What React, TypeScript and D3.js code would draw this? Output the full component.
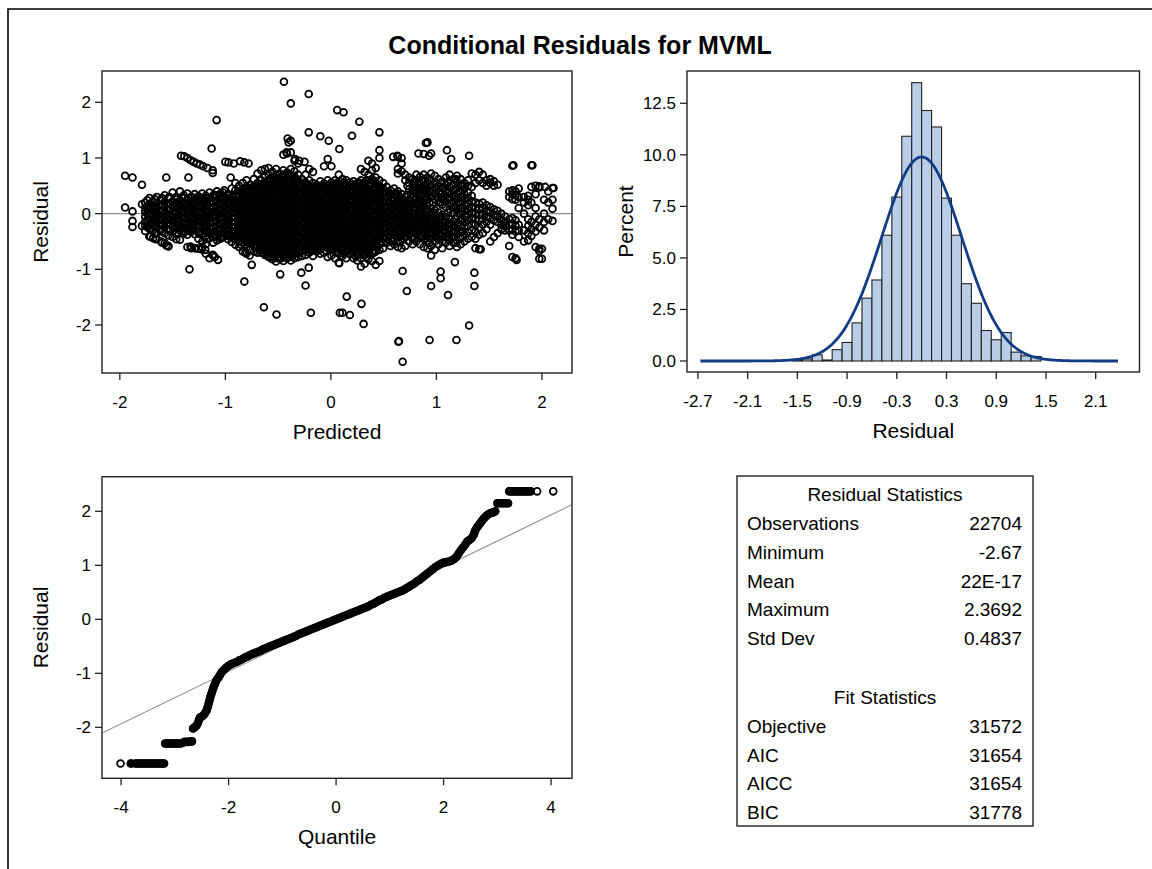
import React from 'react';
import * as d3 from 'd3';

const W = 1152;
const H = 869;

// ---------- Panel 1: Residual vs Predicted (hand-read columns: predicted, residuals) ----------
const scatterColumns: [number, number[]][] = [
  [-1.95, [0.68, 0.11]],
  [-1.88, [0.65, 0.04, -0.13, -0.24]],
  [-1.79, [0.52, 0.17, -0.22]],
  [-1.76, [0.2, 0.11, 0.04, -0.05, -0.14, -0.22, -0.31]],
  [-1.72, [0.28, 0.17, 0.08, -0.01, -0.1, -0.19, -0.27, -0.41]],
  [-1.685, [0.22, 0.13, 0.05, -0.04, -0.12, -0.21, -0.3, -0.44]],
  [-1.65, [0.3, 0.19, 0.1, 0.01, -0.07, -0.16, -0.25, -0.34, -0.45]],
  [-1.61, [0.25, 0.15, 0.06, -0.03, -0.11, -0.2, -0.29, -0.5]],
  [-1.575, [0.33, 0.21, 0.12, 0.03, -0.06, -0.15, -0.24, -0.35, -0.53]],
  [-1.54, [0.28, 0.18, 0.08, -0.01, -0.1, -0.19, -0.28, -0.39, -0.58]],
  [-1.5, [0.38, 0.22, 0.13, 0.04, -0.05, -0.14, -0.23, -0.33, -0.42]],
  [-1.465, [0.3, 0.19, 0.1, 0.01, -0.08, -0.17, -0.26, -0.36, -0.46]],
  [-1.43, [0.4, 0.24, 0.15, 0.06, -0.03, -0.12, -0.21, -0.3, -0.47]],
  [-1.395, [0.33, 0.2, 0.11, 0.02, -0.07, -0.16, -0.25, -0.35]],
  [-1.36, [0.36, 0.25, 0.16, 0.07, -0.02, -0.11, -0.2, -0.29, -0.38, -0.6]],
  [-1.325, [0.3, 0.21, 0.12, 0.03, -0.06, -0.15, -0.24, -0.33, -0.62]],
  [-1.29, [0.35, 0.26, 0.17, 0.08, -0.01, -0.1, -0.19, -0.28, -0.37, -0.62]],
  [-1.255, [0.31, 0.22, 0.13, 0.04, -0.05, -0.14, -0.23, -0.32, -0.45, -0.63]],
  [-1.22, [0.36, 0.27, 0.18, 0.09, 0.0, -0.09, -0.18, -0.27, -0.36, -0.5, -0.6]],
  [-1.185, [0.32, 0.23, 0.14, 0.05, -0.04, -0.13, -0.22, -0.31, -0.4, -0.55, -0.72]],
  [-1.15, [0.38, 0.28, 0.19, 0.1, 0.01, -0.08, -0.17, -0.26, -0.35, -0.44, -0.8]],
  [-1.115, [0.3, 0.21, 0.12, 0.03, -0.06, -0.15, -0.24, -0.33, -0.42, -0.52, -0.75]],
  [-1.08, [0.4, 0.33, 0.24, 0.15, 0.06, -0.03, -0.12, -0.21, -0.3, -0.39, -0.48]],
  [-1.045, [0.36, 0.27, 0.18, 0.09, 0.0, -0.09, -0.18, -0.27, -0.36, -0.45]],
  [-1.01, [0.42, 0.31, 0.22, 0.13, 0.04, -0.05, -0.14, -0.23, -0.32, -0.41]],
  [-0.975, [0.35, 0.26, 0.17, 0.08, -0.01, -0.1, -0.19, -0.28, -0.37, -0.46]],
  [-0.94, [0.45, 0.3, 0.21, 0.12, 0.03, -0.06, -0.15, -0.24, -0.33, -0.42, -0.51]],
  [-0.905, [0.55, 0.42, 0.33, 0.25, 0.17, 0.09, 0.01, -0.07, -0.15, -0.23, -0.31, -0.39, -0.47, -0.56]],
  [-0.87, [0.5, 0.4, 0.31, 0.23, 0.15, 0.07, -0.01, -0.09, -0.17, -0.25, -0.33, -0.41, -0.49, -0.6]],
  [-0.835, [0.55, 0.45, 0.36, 0.28, 0.2, 0.12, 0.04, -0.04, -0.12, -0.2, -0.28, -0.36, -0.44, -0.52, -0.68]],
  [-0.8, [0.6, 0.48, 0.39, 0.31, 0.23, 0.15, 0.07, -0.01, -0.09, -0.17, -0.25, -0.33, -0.41, -0.5, -0.6, -0.72]],
  [-0.765, [0.52, 0.43, 0.35, 0.27, 0.19, 0.11, 0.03, -0.05, -0.13, -0.21, -0.29, -0.37, -0.45, -0.53, -0.65]],
  [-0.73, [0.62, 0.5, 0.41, 0.33, 0.25, 0.17, 0.09, 0.01, -0.07, -0.15, -0.23, -0.31, -0.39, -0.47, -0.56, -0.68]],
  [-0.695, [0.72, 0.55, 0.46, 0.38, 0.3, 0.22, 0.14, 0.06, -0.02, -0.1, -0.18, -0.26, -0.34, -0.42, -0.5, -0.58, -0.7]],
  [-0.66, [0.78, 0.6, 0.5, 0.42, 0.34, 0.26, 0.18, 0.1, 0.02, -0.06, -0.14, -0.22, -0.3, -0.38, -0.46, -0.54, -0.62, -0.7]],
  [-0.625, [0.8, 0.66, 0.55, 0.46, 0.38, 0.3, 0.22, 0.14, 0.06, -0.02, -0.1, -0.18, -0.26, -0.34, -0.42, -0.5, -0.58, -0.66, -0.74]],
  [-0.59, [0.82, 0.7, 0.6, 0.52, 0.44, 0.36, 0.28, 0.2, 0.12, 0.04, -0.04, -0.12, -0.2, -0.28, -0.36, -0.44, -0.52, -0.6, -0.68, -0.78]],
  [-0.555, [0.75, 0.65, 0.56, 0.48, 0.4, 0.32, 0.24, 0.16, 0.08, 0.0, -0.08, -0.16, -0.24, -0.32, -0.4, -0.48, -0.56, -0.64, -0.72, -0.82]],
  [-0.52, [0.8, 0.7, 0.61, 0.53, 0.45, 0.37, 0.29, 0.21, 0.13, 0.05, -0.03, -0.11, -0.19, -0.27, -0.35, -0.43, -0.51, -0.59, -0.67, -0.75, -0.86]],
  [-0.485, [0.72, 0.64, 0.56, 0.48, 0.4, 0.32, 0.24, 0.16, 0.08, 0.0, -0.08, -0.16, -0.24, -0.32, -0.4, -0.48, -0.56, -0.64, -0.72, -0.8]],
  [-0.45, [1.06, 0.78, 0.68, 0.6, 0.52, 0.44, 0.36, 0.28, 0.2, 0.12, 0.04, -0.04, -0.12, -0.2, -0.28, -0.36, -0.44, -0.52, -0.6, -0.68, -0.76, -0.85]],
  [-0.415, [1.08, 0.74, 0.64, 0.56, 0.48, 0.4, 0.32, 0.24, 0.16, 0.08, 0.0, -0.08, -0.16, -0.24, -0.32, -0.4, -0.48, -0.56, -0.64, -0.72, -0.8]],
  [-0.38, [1.1, 0.8, 0.7, 0.61, 0.53, 0.45, 0.37, 0.29, 0.21, 0.13, 0.05, -0.03, -0.11, -0.19, -0.27, -0.35, -0.43, -0.51, -0.59, -0.67, -0.75, -0.84]],
  [-0.345, [0.95, 0.76, 0.66, 0.57, 0.49, 0.41, 0.33, 0.25, 0.17, 0.09, 0.01, -0.07, -0.15, -0.23, -0.31, -0.39, -0.47, -0.55, -0.63, -0.71, -0.8]],
  [-0.31, [0.9, 0.7, 0.6, 0.52, 0.44, 0.36, 0.28, 0.2, 0.12, 0.04, -0.04, -0.12, -0.2, -0.28, -0.36, -0.44, -0.52, -0.6, -0.68, -0.78]],
  [-0.275, [0.62, 0.53, 0.45, 0.37, 0.29, 0.21, 0.13, 0.05, -0.03, -0.11, -0.19, -0.27, -0.35, -0.43, -0.51, -0.59, -0.67, -0.76]],
  [-0.24, [0.7, 0.56, 0.47, 0.39, 0.31, 0.23, 0.15, 0.07, -0.01, -0.09, -0.17, -0.25, -0.33, -0.41, -0.49, -0.57, -0.65, -0.74]],
  [-0.205, [0.8, 0.6, 0.5, 0.42, 0.34, 0.26, 0.18, 0.1, 0.02, -0.06, -0.14, -0.22, -0.3, -0.38, -0.46, -0.54, -0.62, -0.7]],
  [-0.17, [0.75, 0.55, 0.46, 0.38, 0.3, 0.22, 0.14, 0.06, -0.02, -0.1, -0.18, -0.26, -0.34, -0.42, -0.5, -0.58, -0.66, -0.76]],
  [-0.135, [0.52, 0.44, 0.36, 0.28, 0.2, 0.12, 0.04, -0.04, -0.12, -0.2, -0.28, -0.36, -0.44, -0.52, -0.6, -0.68]],
  [-0.1, [0.58, 0.48, 0.4, 0.32, 0.24, 0.16, 0.08, 0.0, -0.08, -0.16, -0.24, -0.32, -0.4, -0.48, -0.56, -0.64, -0.72]],
  [-0.065, [0.85, 0.54, 0.45, 0.37, 0.29, 0.21, 0.13, 0.05, -0.03, -0.11, -0.19, -0.27, -0.35, -0.43, -0.51, -0.59, -0.7]],
  [-0.03, [0.98, 0.6, 0.5, 0.42, 0.34, 0.26, 0.18, 0.1, 0.02, -0.06, -0.14, -0.22, -0.3, -0.38, -0.46, -0.54, -0.62, -0.78]],
  [0.005, [0.85, 0.56, 0.47, 0.39, 0.31, 0.23, 0.15, 0.07, -0.01, -0.09, -0.17, -0.25, -0.33, -0.41, -0.49, -0.57, -0.65, -0.75]],
  [0.04, [0.6, 0.52, 0.44, 0.36, 0.28, 0.2, 0.12, 0.04, -0.04, -0.12, -0.2, -0.28, -0.36, -0.44, -0.52, -0.6, -0.68, -0.8]],
  [0.075, [0.7, 0.58, 0.49, 0.41, 0.33, 0.25, 0.17, 0.09, 0.01, -0.07, -0.15, -0.23, -0.31, -0.39, -0.47, -0.55, -0.63, -0.72, -0.88]],
  [0.11, [0.62, 0.53, 0.45, 0.37, 0.29, 0.21, 0.13, 0.05, -0.03, -0.11, -0.19, -0.27, -0.35, -0.43, -0.51, -0.59, -0.67, -0.76]],
  [0.145, [0.6, 0.5, 0.42, 0.34, 0.26, 0.18, 0.1, 0.02, -0.06, -0.14, -0.22, -0.3, -0.38, -0.46, -0.54, -0.62, -0.7, -0.8]],
  [0.18, [0.56, 0.47, 0.39, 0.31, 0.23, 0.15, 0.07, -0.01, -0.09, -0.17, -0.25, -0.33, -0.41, -0.49, -0.57, -0.65, -0.73]],
  [0.215, [0.58, 0.49, 0.41, 0.33, 0.25, 0.17, 0.09, 0.01, -0.07, -0.15, -0.23, -0.31, -0.39, -0.47, -0.55, -0.63, -0.71, -0.8]],
  [0.25, [0.55, 0.46, 0.38, 0.3, 0.22, 0.14, 0.06, -0.02, -0.1, -0.18, -0.26, -0.34, -0.42, -0.5, -0.58, -0.66, -0.74, -0.84]],
  [0.285, [0.8, 0.6, 0.5, 0.42, 0.34, 0.26, 0.18, 0.1, 0.02, -0.06, -0.14, -0.22, -0.3, -0.38, -0.46, -0.54, -0.62, -0.7, -0.8, -0.95]],
  [0.32, [0.75, 0.55, 0.46, 0.38, 0.3, 0.22, 0.14, 0.06, -0.02, -0.1, -0.18, -0.26, -0.34, -0.42, -0.5, -0.58, -0.66, -0.74, -0.9]],
  [0.355, [0.95, 0.7, 0.6, 0.5, 0.42, 0.34, 0.26, 0.18, 0.1, 0.02, -0.06, -0.14, -0.22, -0.3, -0.38, -0.46, -0.54, -0.62, -0.7, -0.82]],
  [0.39, [0.9, 0.78, 0.62, 0.52, 0.44, 0.36, 0.28, 0.2, 0.12, 0.04, -0.04, -0.12, -0.2, -0.28, -0.36, -0.44, -0.52, -0.6, -0.7, -0.85]],
  [0.425, [0.82, 0.65, 0.55, 0.46, 0.38, 0.3, 0.22, 0.14, 0.06, -0.02, -0.1, -0.18, -0.26, -0.34, -0.42, -0.5, -0.58, -0.68, -0.92]],
  [0.46, [1.0, 0.6, 0.5, 0.42, 0.34, 0.26, 0.18, 0.1, 0.02, -0.06, -0.14, -0.22, -0.3, -0.38, -0.46, -0.55, -0.65, -0.85]],
  [0.495, [0.55, 0.45, 0.37, 0.29, 0.21, 0.13, 0.05, -0.03, -0.11, -0.19, -0.27, -0.35, -0.43, -0.52, -0.62]],
  [0.53, [0.48, 0.38, 0.29, 0.2, 0.11, 0.02, -0.07, -0.16, -0.25, -0.34, -0.43, -0.52]],
  [0.565, [0.42, 0.33, 0.24, 0.15, 0.06, -0.03, -0.12, -0.21, -0.3, -0.39, -0.48, -0.58]],
  [0.6, [0.45, 0.36, 0.27, 0.18, 0.09, 0.0, -0.09, -0.18, -0.27, -0.36, -0.45, -0.55]],
  [0.635, [1.02, 0.8, 0.72, 0.4, 0.31, 0.22, 0.13, 0.04, -0.05, -0.14, -0.23, -0.32, -0.41, -0.5, -0.6]],
  [0.67, [1.0, 0.9, 0.76, 0.35, 0.26, 0.17, 0.08, -0.01, -0.1, -0.19, -0.28, -0.37, -0.46, -0.62]],
  [0.705, [0.7, 0.6, 0.3, 0.21, 0.12, 0.03, -0.06, -0.15, -0.24, -0.33, -0.42, -0.58]],
  [0.74, [0.65, 0.55, 0.44, 0.25, 0.16, 0.07, -0.02, -0.11, -0.2, -0.29, -0.38, -0.5]],
  [0.775, [0.62, 0.5, 0.4, 0.3, 0.2, 0.11, 0.02, -0.07, -0.16, -0.25, -0.34, -0.45, -0.55]],
  [0.81, [0.7, 0.6, 0.48, 0.38, 0.28, 0.18, 0.09, 0.0, -0.09, -0.18, -0.27, -0.36, -0.5]],
  [0.845, [0.66, 0.55, 0.45, 0.35, 0.25, 0.15, 0.06, -0.03, -0.12, -0.21, -0.3, -0.4, -0.55]],
  [0.88, [1.07, 0.7, 0.6, 0.5, 0.4, 0.3, 0.2, 0.1, 0.01, -0.08, -0.17, -0.26, -0.35, -0.45, -0.6]],
  [0.915, [1.28, 0.65, 0.55, 0.45, 0.35, 0.25, 0.15, 0.05, -0.04, -0.13, -0.22, -0.31, -0.4, -0.5, -0.62]],
  [0.95, [1.08, 0.72, 0.6, 0.5, 0.4, 0.3, 0.1, 0.0, -0.09, -0.18, -0.27, -0.36, -0.45, -0.58, -0.75]],
  [0.985, [0.68, 0.56, 0.46, 0.36, 0.26, 0.06, -0.04, -0.13, -0.22, -0.31, -0.4, -0.5, -0.65]],
  [1.02, [0.62, 0.5, 0.4, 0.3, 0.2, 0.02, -0.08, -0.17, -0.26, -0.35, -0.45, -0.55]],
  [1.055, [0.58, 0.46, 0.36, 0.26, 0.16, -0.02, -0.12, -0.21, -0.3, -0.39, -0.5, -0.62]],
  [1.09, [0.65, 0.52, 0.42, 0.32, 0.22, 0.12, -0.06, -0.15, -0.24, -0.33, -0.42, -0.52]],
  [1.125, [0.7, 0.6, 0.48, 0.38, 0.28, 0.18, 0.08, -0.1, -0.19, -0.28, -0.37, -0.47, -0.58]],
  [1.16, [0.62, 0.52, 0.42, 0.32, 0.22, 0.12, 0.02, -0.14, -0.23, -0.32, -0.42, -0.52]],
  [1.195, [0.68, 0.57, 0.46, 0.36, 0.26, 0.16, 0.06, -0.04, -0.18, -0.27, -0.37, -0.48, -0.6]],
  [1.23, [0.62, 0.5, 0.4, 0.3, 0.2, 0.1, 0.0, -0.1, -0.22, -0.32, -0.43, -0.55]],
  [1.265, [0.55, 0.45, 0.35, 0.25, 0.15, 0.05, -0.05, -0.15, -0.26, -0.38, -0.5]],
  [1.3, [0.6, 0.5, 0.38, 0.28, 0.18, 0.08, -0.02, -0.12, -0.22, -0.33, -0.45]],
  [1.335, [0.72, 0.48, 0.32, 0.22, 0.12, 0.02, -0.08, -0.18, -0.3, -0.42]],
  [1.37, [0.7, 0.55, 0.2, 0.1, 0.0, -0.1, -0.2, -0.32, -0.45, -0.62]],
  [1.405, [0.75, 0.6, 0.18, 0.08, -0.02, -0.12, -0.25, -0.38, -0.64]],
  [1.44, [0.7, 0.55, 0.2, 0.1, 0.0, -0.1, -0.2, -0.35]],
  [1.475, [0.6, 0.5, 0.15, 0.05, -0.05, -0.15, -0.28]],
  [1.51, [0.62, 0.55, 0.12, 0.02, -0.08, -0.2, -0.5]],
  [1.545, [0.58, 0.5, 0.08, -0.02, -0.12, -0.42]],
  [1.58, [0.52, 0.05, -0.05, -0.15, -0.35]],
  [1.615, [0.0, -0.1, -0.2, -0.28]],
  [1.65, [-0.05, -0.15, -0.22, -0.3]],
  [1.69, [0.4, 0.3, -0.1, -0.2, -0.3, -0.58]],
  [1.72, [0.86, 0.42, 0.35, 0.26, -0.08, -0.18, -0.28, -0.38, -0.78]],
  [1.75, [0.4, 0.33, 0.25, -0.12, -0.22, -0.32, -0.8]],
  [1.78, [0.45, 0.3, 0.1, -0.2, -0.3, -0.42]],
  [1.83, [0.3, 0.2, 0.0, -0.3, -0.5]],
  [1.87, [0.32, 0.25, 0.15, -0.1, -0.22, -0.35, -0.48]],
  [1.9, [0.87, 0.48, 0.2, -0.15, -0.28, -0.4]],
  [1.94, [0.5, 0.35, 0.1, -0.05, -0.2, -0.32, -0.6]],
  [1.975, [0.49, 0.47, -0.1, -0.25, -0.63, -0.67, -0.81]],
  [2.02, [0.25, 0.0, -0.15, -0.3]],
  [2.06, [0.4, 0.2, -0.1]],
  [2.1, [0.46, 0.25, 0.09, -0.13]],
];

// extra hand-read points filling the darkest parts of the cloud (offset columns)
const scatterCore: [number, number[]][] = [
  [-1.74, [0.24, 0.12, 0.0, -0.12, -0.24]],
  [-1.67, [0.26, 0.14, 0.02, -0.1, -0.22, -0.36]],
  [-1.6, [0.28, 0.16, 0.04, -0.08, -0.2, -0.32]],
  [-1.53, [0.3, 0.18, 0.06, -0.06, -0.18, -0.3]],
  [-1.46, [0.26, 0.14, 0.02, -0.1, -0.22, -0.34]],
  [-1.39, [0.28, 0.16, 0.04, -0.08, -0.2, -0.32]],
  [-1.32, [0.3, 0.18, 0.06, -0.06, -0.18, -0.3]],
  [-1.25, [0.26, 0.14, 0.02, -0.1, -0.22, -0.36]],
  [-1.18, [0.28, 0.16, 0.04, -0.08, -0.2, -0.32, -0.46]],
  [-1.11, [0.34, 0.22, 0.1, -0.02, -0.14, -0.26, -0.38]],
  [-1.04, [0.3, 0.18, 0.06, -0.06, -0.18, -0.3, -0.42]],
  [-0.97, [0.32, 0.2, 0.08, -0.04, -0.16, -0.28, -0.4]],
  [-0.885, [0.36, 0.21, 0.05, -0.11, -0.27, -0.43]],
  [-0.852, [0.38, 0.22, 0.06, -0.1, -0.26, -0.42, -0.56]],
  [-0.815, [0.42, 0.26, 0.1, -0.06, -0.22, -0.38, -0.55]],
  [-0.782, [0.44, 0.28, 0.12, -0.04, -0.2, -0.36, -0.52]],
  [-0.745, [0.46, 0.3, 0.14, -0.02, -0.18, -0.34, -0.5]],
  [-0.712, [0.48, 0.32, 0.16, 0.0, -0.16, -0.32, -0.48, -0.62]],
  [-0.675, [0.5, 0.34, 0.18, 0.02, -0.14, -0.3, -0.46, -0.62]],
  [-0.642, [0.54, 0.38, 0.22, 0.06, -0.1, -0.26, -0.42, -0.58, -0.7]],
  [-0.607, [0.58, 0.42, 0.26, 0.1, -0.06, -0.22, -0.38, -0.54, -0.7]],
  [-0.572, [0.62, 0.46, 0.3, 0.14, -0.02, -0.18, -0.34, -0.5, -0.66, -0.78]],
  [-0.537, [0.66, 0.5, 0.34, 0.18, 0.02, -0.14, -0.3, -0.46, -0.62, -0.78]],
  [-0.502, [0.64, 0.48, 0.32, 0.16, 0.0, -0.16, -0.32, -0.48, -0.64, -0.8]],
  [-0.467, [0.6, 0.44, 0.28, 0.12, -0.04, -0.2, -0.36, -0.52, -0.68, -0.8]],
  [-0.432, [0.7, 0.54, 0.38, 0.22, 0.06, -0.1, -0.26, -0.42, -0.58, -0.74]],
  [-0.397, [0.66, 0.5, 0.34, 0.18, 0.02, -0.14, -0.3, -0.46, -0.62, -0.78]],
  [-0.362, [0.68, 0.52, 0.36, 0.2, 0.04, -0.12, -0.28, -0.44, -0.6, -0.76]],
  [-0.327, [0.62, 0.46, 0.3, 0.14, -0.02, -0.18, -0.34, -0.5, -0.66]],
  [-0.292, [0.56, 0.4, 0.24, 0.08, -0.08, -0.24, -0.4, -0.56, -0.7]],
  [-0.257, [0.5, 0.34, 0.18, 0.02, -0.14, -0.3, -0.46, -0.62]],
  [-0.222, [0.52, 0.36, 0.2, 0.04, -0.12, -0.28, -0.44, -0.6]],
  [-0.187, [0.46, 0.3, 0.14, -0.02, -0.18, -0.34, -0.5, -0.66]],
  [-0.152, [0.48, 0.32, 0.16, 0.0, -0.16, -0.32, -0.48, -0.62]],
  [-0.117, [0.44, 0.28, 0.12, -0.04, -0.2, -0.36, -0.52, -0.64]],
  [-0.082, [0.5, 0.34, 0.18, 0.02, -0.14, -0.3, -0.46, -0.6]],
  [-0.047, [0.46, 0.3, 0.14, -0.02, -0.18, -0.34, -0.5, -0.66]],
  [-0.012, [0.52, 0.36, 0.2, 0.04, -0.12, -0.28, -0.44, -0.6]],
  [0.022, [0.48, 0.32, 0.16, 0.0, -0.16, -0.32, -0.48, -0.64]],
  [0.057, [0.54, 0.38, 0.22, 0.06, -0.1, -0.26, -0.42, -0.58, -0.7]],
  [0.092, [0.5, 0.34, 0.18, 0.02, -0.14, -0.3, -0.46, -0.62]],
  [0.127, [0.56, 0.4, 0.24, 0.08, -0.08, -0.24, -0.4, -0.56, -0.72]],
  [0.162, [0.46, 0.3, 0.14, -0.02, -0.18, -0.34, -0.5, -0.66]],
  [0.197, [0.52, 0.36, 0.2, 0.04, -0.12, -0.28, -0.44, -0.6]],
  [0.232, [0.5, 0.34, 0.18, 0.02, -0.14, -0.3, -0.46, -0.62, -0.76]],
  [0.267, [0.56, 0.4, 0.24, 0.08, -0.08, -0.24, -0.4, -0.56, -0.72]],
  [0.302, [0.54, 0.38, 0.22, 0.06, -0.1, -0.26, -0.42, -0.58, -0.74]],
  [0.337, [0.6, 0.44, 0.28, 0.12, -0.04, -0.2, -0.36, -0.52, -0.68, -0.78]],
  [0.372, [0.56, 0.4, 0.24, 0.08, -0.08, -0.24, -0.4, -0.56, -0.74]],
  [0.407, [0.58, 0.42, 0.26, 0.1, -0.06, -0.22, -0.38, -0.54, -0.7]],
  [0.442, [0.52, 0.36, 0.2, 0.04, -0.12, -0.28, -0.44, -0.6]],
  [0.477, [0.46, 0.3, 0.14, -0.02, -0.18, -0.34, -0.5]],
  [0.55, [0.35, 0.2, 0.05, -0.1, -0.25, -0.4]],
  [0.585, [0.28, 0.12, -0.04, -0.2, -0.34, -0.5]],
  [0.62, [0.36, 0.18, 0.0, -0.18, -0.36]],
  [0.655, [0.3, 0.12, -0.06, -0.24, -0.42]],
  [0.69, [0.25, 0.08, -0.1, -0.28, -0.45]],
  [0.725, [0.5, 0.34, 0.18, 0.0, -0.16, -0.34]],
  [0.76, [0.35, 0.15, -0.05, -0.25, -0.42]],
  [0.795, [0.55, 0.42, 0.24, 0.05, -0.12, -0.3, -0.44]],
  [0.83, [0.42, 0.2, 0.04, -0.15, -0.32]],
  [0.865, [0.6, 0.46, 0.34, 0.14, -0.04, -0.22, -0.4]],
  [0.9, [0.48, 0.28, 0.08, -0.1, -0.28, -0.45]],
  [0.935, [0.6, 0.4, 0.2, -0.02, -0.18, -0.35, -0.52]],
  [0.97, [0.42, 0.2, 0.02, -0.18, -0.36]],
  [1.04, [0.55, 0.35, 0.2, -0.05, -0.22, -0.4]],
  [1.11, [0.56, 0.4, 0.25, 0.02, -0.2, -0.42]],
  [1.18, [0.62, 0.44, 0.3, 0.1, -0.1, -0.32, -0.52]],
  [1.25, [0.5, 0.3, 0.1, -0.1, -0.32]],
];

const scatterOutliers: [number, number][] = [
  [-0.445, 2.37], [-0.21, 2.15], [-0.38, 1.98], [-1.083, 1.68], [-1.13, 1.17], [-0.21, 1.46],
  [-0.1, 1.39], [-0.02, 1.31], [0.06, 1.86], [0.12, 1.82], [0.27, 1.65], [0.2, 1.4], [0.46, 1.46],
  [0.08, 1.16], [0.46, 1.14], [-0.41, 1.35], [-0.38, 1.31], [-0.4, 1.28], [-0.42, 1.1],
  [-0.34, 0.98], [-0.3, 0.95], [-0.25, 0.93],
  [-1.42, 1.04], [-1.39, 1.03], [-1.36, 1.0], [-1.33, 0.96], [-1.3, 0.93], [-1.27, 0.9],
  [-1.24, 0.88], [-1.21, 0.85], [-1.17, 0.82], [-1.12, 0.78], [-1.12, 0.73],
  [-1.56, 0.65], [-1.35, 0.65], [-1.0, 0.93], [-0.97, 0.92], [-0.92, 0.9], [-0.86, 0.94],
  [-0.82, 0.92], [-0.78, 0.9], [-0.95, 0.65], [-1.02, 0.38],
  [-1.71, -0.41], [-1.66, -0.46], [-1.6, -0.52], [-1.56, -0.57], [-1.54, -0.59],
  [-1.33, -0.59], [-1.28, -0.62], [-1.23, -0.64], [-1.19, -0.65],
  [-1.12, -0.74], [-1.1, -0.78], [-1.07, -0.83], [-1.34, -1.0],
  [-0.81, -0.7], [-0.77, -0.75], [-0.75, -0.92], [-0.82, -1.22], [-0.48, -1.09],
  [-0.635, -1.68], [-0.515, -1.81], [-0.24, -1.29], [-0.28, -1.06], [-0.21, -0.97], [-0.19, -1.78],
  [0.085, -1.78], [0.11, -1.78], [0.18, -1.82], [0.15, -1.49], [0.29, -1.62], [0.31, -1.98],
  [0.08, -0.89], [0.64, -2.3], [0.645, -2.29], [0.68, -2.66], [0.935, -2.27], [1.19, -2.27],
  [1.31, -2.01], [0.68, -1.03], [0.72, -1.39], [0.95, -1.3], [1.04, -1.04], [1.04, -1.16],
  [1.11, -1.46], [1.175, -0.87], [1.36, -1.06], [1.36, -1.3], [1.42, -0.64],
  [0.9, 1.27], [0.83, 1.08], [0.93, 1.04], [1.1, 1.14], [1.14, 0.98], [1.31, 1.04],
  [1.91, 0.87], [0.63, 1.04], [0.59, 1.02], [1.73, 0.87],
  [1.76, -0.83], [2.0, -0.81], [2.0, -0.63], [2.11, 0.46], [2.03, 0.48],
];

const scatterXTicks = [-2, -1, 0, 1, 2];
const scatterYTicks = [-2, -1, 0, 1, 2];

// ---------- Panel 2: histogram of residuals ----------
const histBinLeft = [-1.56, -1.44, -1.32, -1.2, -1.08, -0.96, -0.84, -0.72, -0.6, -0.48, -0.36, -0.24, -0.12,
  0, 0.12, 0.24, 0.36, 0.48, 0.6, 0.72, 0.84, 0.96, 1.08, 1.2, 1.32];
const histPercent = [0.05, 0.1, 0.3, 0.05, 0.55, 0.9, 1.85, 3.05, 3.93, 6.1, 7.95, 10.9, 13.5,
  12.15, 11.35, 7.9, 6.1, 3.75, 2.8, 1.48, 1.03, 1.38, 0.43, 0.25, 0.22];
const histBinWidth = 0.12;
const histXTicks = [-2.7, -2.1, -1.5, -0.9, -0.3, 0.3, 0.9, 1.5, 2.1];
const histYTicks = [0, 2.5, 5, 7.5, 10, 12.5];

// ---------- Panel 3: normal quantile plot (quantile, residual) ----------
const qqPoints: [number, number][] = [
  [-4.01, -2.67], [-3.82, -2.67], [-3.72, -2.67], [-3.68, -2.67], [-3.64, -2.67], [-3.6, -2.67],
  [-3.56, -2.67], [-3.52, -2.67], [-3.48, -2.67], [-3.44, -2.67], [-3.4, -2.67], [-3.36, -2.67],
  [-3.32, -2.67], [-3.28, -2.67], [-3.24, -2.67], [-3.2, -2.67],
  [-3.18, -2.3], [-3.14, -2.3], [-3.1, -2.3], [-3.06, -2.3], [-3.02, -2.3], [-2.98, -2.3],
  [-2.94, -2.3], [-2.9, -2.3], [-2.86, -2.29], [-2.82, -2.27], [-2.78, -2.27], [-2.74, -2.27],
  [-2.7, -2.26], [-2.68, -2.26],
  [-2.66, -2.02], [-2.63, -2.0], [-2.6, -1.97], [-2.57, -1.92], [-2.55, -1.86], [-2.53, -1.82],
  [-2.5, -1.8], [-2.47, -1.78], [-2.44, -1.74], [-2.41, -1.69], [-2.39, -1.63], [-2.37, -1.56],
  [-2.355, -1.5], [-2.34, -1.44], [-2.32, -1.38], [-2.3, -1.32], [-2.28, -1.26], [-2.26, -1.21],
  [-2.24, -1.16], [-2.22, -1.12], [-2.19, -1.08], [-2.16, -1.03], [-2.13, -0.98], [-2.09, -0.94],
  [-2.05, -0.9], [-2.0, -0.86], [-1.95, -0.83], [-1.9, -0.81], [-1.85, -0.79], [-1.8, -0.76],
  [-1.75, -0.74], [-1.7, -0.71], [-1.65, -0.69], [-1.6, -0.66], [-1.55, -0.64], [-1.5, -0.62],
  [-1.45, -0.6], [-1.4, -0.58], [-1.35, -0.55], [-1.3, -0.53], [-1.25, -0.51], [-1.2, -0.49],
  [-1.15, -0.47], [-1.1, -0.45], [-1.05, -0.43], [-1.0, -0.41], [-0.95, -0.39], [-0.9, -0.37],
  [-0.85, -0.35], [-0.8, -0.33], [-0.75, -0.31], [-0.7, -0.28], [-0.65, -0.26], [-0.6, -0.24],
  [-0.55, -0.22], [-0.5, -0.2], [-0.45, -0.18], [-0.4, -0.16], [-0.35, -0.14], [-0.3, -0.12],
  [-0.25, -0.1], [-0.2, -0.08], [-0.15, -0.06], [-0.1, -0.04], [-0.05, -0.02], [0.0, 0.0],
  [0.05, 0.02], [0.1, 0.04], [0.15, 0.06], [0.2, 0.08], [0.25, 0.1], [0.3, 0.12], [0.35, 0.14],
  [0.4, 0.16], [0.45, 0.18], [0.5, 0.2], [0.55, 0.22], [0.6, 0.24], [0.65, 0.27], [0.7, 0.29],
  [0.75, 0.32], [0.8, 0.35], [0.85, 0.37], [0.9, 0.4], [0.95, 0.42], [1.0, 0.44], [1.05, 0.46],
  [1.1, 0.48], [1.15, 0.5], [1.2, 0.52], [1.25, 0.54], [1.3, 0.57], [1.35, 0.6], [1.4, 0.63],
  [1.45, 0.66], [1.5, 0.7], [1.55, 0.73], [1.6, 0.77], [1.65, 0.81], [1.7, 0.85], [1.75, 0.89],
  [1.8, 0.93], [1.85, 0.97], [1.9, 1.0], [1.95, 1.03], [2.0, 1.05], [2.05, 1.06], [2.1, 1.07],
  [2.15, 1.09], [2.2, 1.12], [2.24, 1.16], [2.28, 1.22], [2.32, 1.28], [2.36, 1.33], [2.4, 1.38],
  [2.44, 1.44], [2.48, 1.47], [2.52, 1.5], [2.56, 1.56], [2.575, 1.61], [2.59, 1.65], [2.62, 1.7],
  [2.65, 1.74], [2.68, 1.78], [2.71, 1.82], [2.74, 1.86], [2.77, 1.89], [2.8, 1.92], [2.84, 1.95],
  [2.88, 1.97], [2.92, 1.98], [2.96, 2.0],
  [3.0, 2.15], [3.04, 2.15], [3.08, 2.15], [3.12, 2.15], [3.16, 2.15], [3.2, 2.15],
  [3.22, 2.37], [3.26, 2.37], [3.3, 2.37], [3.34, 2.37], [3.38, 2.37], [3.42, 2.37], [3.46, 2.37],
  [3.5, 2.37], [3.54, 2.37], [3.58, 2.37], [3.62, 2.37], [3.74, 2.37], [4.04, 2.37],
];
const qqXTicks = [-4, -2, 0, 2, 4];
const qqYTicks = [-2, -1, 0, 1, 2];

// ---------- Panel 4: statistics table ----------
const residualStatLabels = ['Observations', 'Minimum', 'Mean', 'Maximum', 'Std Dev'];
const residualStatValues = ['22704', '-2.67', '22E-17', '2.3692', '0.4837'];
const fitStatLabels = ['Objective', 'AIC', 'AICC', 'BIC'];
const fitStatValues = ['31572', '31654', '31654', '31778'];
const residualMean = 0;
const residualStd = 0.4837;
const residualMin = -2.67;
const residualMax = 2.3692;

const FONT = "'Liberation Sans', Arial, Helvetica, sans-serif";
const FRAME = '#222';
const MARK_R = 3.4;
const MARK_W = 1.8;

type Lin = d3.ScaleLinear<number, number>;

function Axes(props: {
  x: Lin; y: Lin; xTicks: number[]; yTicks: number[];
  fx: (v: number) => string; fy: (v: number) => string;
  xLabel: string; yLabel: string;
}) {
  const { x, y, xTicks, yTicks, fx, fy, xLabel, yLabel } = props;
  const [x0, x1] = x.range();
  const [y1, y0] = y.range();
  const tick = 7;
  return (
    <g fontFamily={FONT} fill="#000">
      <rect x={x0} y={y0} width={x1 - x0} height={y1 - y0} fill="none" stroke={FRAME} strokeWidth={1.4} />
      {xTicks.map((t) => (
        <g key={'x' + t}>
          <line x1={x(t)} x2={x(t)} y1={y1} y2={y1 + tick} stroke={FRAME} strokeWidth={1.3} />
          <text x={x(t)} y={y1 + 35} textAnchor="middle" fontSize={17}>{fx(t)}</text>
        </g>
      ))}
      {yTicks.map((t) => (
        <g key={'y' + t}>
          <line x1={x0 - tick} x2={x0} y1={y(t)} y2={y(t)} stroke={FRAME} strokeWidth={1.3} />
          <text x={x0 - 11} y={y(t)} dy="0.35em" textAnchor="end" fontSize={17}>{fy(t)}</text>
        </g>
      ))}
      <text x={(x0 + x1) / 2} y={y1 + 66} textAnchor="middle" fontSize={21}>{xLabel}</text>
      <text transform={`translate(${x0 - 54},${(y0 + y1) / 2}) rotate(-90)`} textAnchor="middle" fontSize={21}>{yLabel}</text>
    </g>
  );
}

export default function App() {
  // scatter scales
  const sx = d3.scaleLinear().domain([-2.169, 2.285]).range([102, 572]);
  const sy = d3.scaleLinear().domain([-2.862, 2.562]).range([373, 71]);
  // histogram scales
  const hx = d3.scaleLinear().domain([-2.8315, 2.6285]).range([687, 1139.5]);
  const hy = d3.scaleLinear().domain([-0.5336, 14.066]).range([372, 71]);
  // qq scales
  const qx = d3.scaleLinear().domain([-4.355, 4.389]).range([102, 572]);
  const qy = d3.scaleLinear().domain([-2.944, 2.641]).range([778.3, 476.7]);

  const scatterPts: [number, number][] = [
    ...scatterColumns.flatMap(([p, rs]) => rs.map((r) => [p, r] as [number, number])),
    ...scatterCore.flatMap(([p, rs]) => rs.map((r) => [p, r] as [number, number])),
    ...scatterOutliers,
  ];

  // fitted normal density scaled to percent per bin
  const curveX = d3.range(residualMin, residualMax + 1e-9, (residualMax - residualMin) / 300);
  const normalPct = (v: number) =>
    (100 * histBinWidth * Math.exp(-0.5 * ((v - residualMean) / residualStd) ** 2)) / (residualStd * Math.sqrt(2 * Math.PI));
  const curvePath = d3.line<number>().x((v) => hx(v)).y((v) => hy(normalPct(v)))(curveX) || '';

  // qq band: connect neighbouring overplotted markers
  let band = '';
  for (let i = 1; i < qqPoints.length; i++) {
    const ax = qx(qqPoints[i - 1][0]), ay = qy(qqPoints[i - 1][1]);
    const bx = qx(qqPoints[i][0]), by = qy(qqPoints[i][1]);
    if (Math.hypot(bx - ax, by - ay) < 5.5) band += `M${ax},${ay}L${bx},${by}`;
  }
  const qqLineQ = qx.domain();

  const fmtInt = (v: number) => String(v);
  const fmt1 = (v: number) => v.toFixed(1);

  const tblX0 = 737, tblX1 = 1033, tblY0 = 476, tblY1 = 826;
  const rowStep = 28.8;

  return (
    <svg width={W} height={H} style={{ position: 'absolute', left: 0, top: 0, display: 'block' }} fontFamily={FONT}>
      <defs>
        <clipPath id="clipS"><rect x={102} y={71} width={470} height={302} /></clipPath>
        <clipPath id="clipQ"><rect x={102} y={476.7} width={470} height={301.6} /></clipPath>
        <clipPath id="clipH"><rect x={687} y={71} width={452.5} height={301} /></clipPath>
      </defs>
      <rect x={0} y={0} width={W} height={H} fill="#fff" />
      <path d={`M8,${H} V9 H${W}`} fill="none" stroke="#000" strokeWidth={1.6} />
      <text x={580} y={54} textAnchor="middle" fontWeight="bold" fontSize={25} fill="#000">
        Conditional Residuals for MVML
      </text>

      {/* Panel 1 */}
      <g clipPath="url(#clipS)">
        <line x1={102} x2={572} y1={sy(0)} y2={sy(0)} stroke="#8c8c8c" strokeWidth={1.2} />
        {scatterPts.map(([p, r], i) => (
          <circle key={i} cx={sx(p)} cy={sy(r)} r={MARK_R} fill="none" stroke="#000" strokeWidth={MARK_W} />
        ))}
      </g>
      <Axes x={sx} y={sy} xTicks={scatterXTicks} yTicks={scatterYTicks} fx={fmtInt} fy={fmtInt}
        xLabel="Predicted" yLabel="Residual" />

      {/* Panel 2 */}
      <g clipPath="url(#clipH)">
        {histBinLeft.map((b, i) => (
          <rect key={i} x={hx(b)} y={hy(histPercent[i])} width={hx(b + histBinWidth) - hx(b)}
            height={hy(0) - hy(histPercent[i])} fill="#b9cde6" stroke="#222" strokeWidth={1.1} />
        ))}
        <path d={curvePath} fill="none" stroke="#123c84" strokeWidth={2.8} />
      </g>
      <Axes x={hx} y={hy} xTicks={histXTicks} yTicks={histYTicks} fx={fmt1} fy={fmt1}
        xLabel="Residual" yLabel="Percent" />

      {/* Panel 3 */}
      <g clipPath="url(#clipQ)">
        <line x1={qx(qqLineQ[0])} y1={qy(residualMean + residualStd * qqLineQ[0])}
          x2={qx(qqLineQ[1])} y2={qy(residualMean + residualStd * qqLineQ[1])}
          stroke="#8c8c8c" strokeWidth={1.1} />
        <path d={band} fill="none" stroke="#000" strokeWidth={8} strokeLinecap="round" />
        {qqPoints.map(([q, r], i) => (
          <circle key={i} cx={qx(q)} cy={qy(r)} r={MARK_R} fill="none" stroke="#000" strokeWidth={MARK_W} />
        ))}
      </g>
      <Axes x={qx} y={qy} xTicks={qqXTicks} yTicks={qqYTicks} fx={fmtInt} fy={fmtInt}
        xLabel="Quantile" yLabel="Residual" />

      {/* Panel 4 */}
      <g fontSize={19} fill="#000">
        <rect x={tblX0} y={tblY0} width={tblX1 - tblX0} height={tblY1 - tblY0} fill="none" stroke="#222" strokeWidth={1.4} />
        <text x={(tblX0 + tblX1) / 2} y={501} textAnchor="middle">Residual Statistics</text>
        {residualStatLabels.map((l, i) => (
          <g key={l}>
            <text x={747} y={530 + i * rowStep}>{l}</text>
            <text x={1022} y={530 + i * rowStep} textAnchor="end">{residualStatValues[i]}</text>
          </g>
        ))}
        <text x={(tblX0 + tblX1) / 2} y={704} textAnchor="middle">Fit Statistics</text>
        {fitStatLabels.map((l, i) => (
          <g key={l}>
            <text x={747} y={733 + i * 28.5}>{l}</text>
            <text x={1022} y={733 + i * 28.5} textAnchor="end">{fitStatValues[i]}</text>
          </g>
        ))}
      </g>
    </svg>
  );
}
